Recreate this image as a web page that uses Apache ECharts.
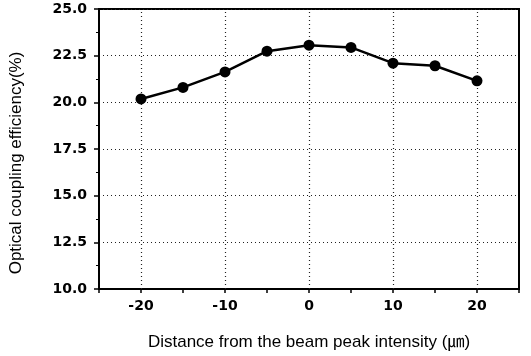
<!DOCTYPE html>
<html>
<head>
    <meta charset="UTF-8">
    <title>Optical coupling efficiency</title>
    <style>
        html, body { margin: 0; padding: 0; background: #fff; }
    </style>
</head>
<body>
<div id="chart" style="width: 531px;height: 356px;"></div>
<script src="https://cdn.jsdelivr.net/npm/echarts@6/dist/echarts.min.js"></script>
<script>
    var distance = [-20, -15, -10, -5, 0, 5, 10, 15, 20];
    var efficiency = [20.18, 20.8, 21.63, 22.74, 23.06, 22.94, 22.1, 21.96, 21.15];
    var xGrid = [-20, -10, 0, 10, 20];

    var chartDom = document.getElementById('chart');
    var myChart = echarts.init(chartDom);

    var font = '"Liberation Sans", Arial, "Noto Sans CJK KR", sans-serif';
    var tickFont = '"DejaVu Sans", sans-serif';
    var dots = [1, 3];
    var option = {
        animation: false,
        grid: {
            left: 97,
            right: 12,
            top: 9,
            bottom: 67,
            show: true,
            borderColor: '#000',
            borderWidth: 2
        },
        xAxis: {
            type: 'value',
            min: -25,
            max: 25,
            interval: 5,
            name: 'Distance from the beam peak intensity (\u339b)',
            nameLocation: 'middle',
            nameGap: 45,
            nameTextStyle: { color: '#000', fontSize: 17, fontFamily: font },
            axisLine: { onZero: false, lineStyle: { color: '#000', width: 2 } },
            axisTick: { length: 4, lineStyle: { color: '#000', width: 1.5 } },
            axisLabel: {
                color: '#000',
                fontSize: 14,
                fontWeight: 'bold',
                fontFamily: tickFont,
                margin: 10,
                formatter: function (v) {
                    return (v % 10 === 0 && Math.abs(v) < 25) ? String(v) : '';
                }
            },
            splitLine: { show: false }
        },
        yAxis: {
            type: 'value',
            min: 10,
            max: 25,
            interval: 2.5,
            name: 'Optical coupling efficiency(%)',
            nameLocation: 'middle',
            nameGap: 74,
            nameTextStyle: { color: '#000', fontSize: 17, fontFamily: font, padding: [0, 28, 0, 0] },
            axisLine: { show: true, onZero: false, lineStyle: { color: '#000', width: 2 } },
            axisTick: { show: true, length: 5, lineStyle: { color: '#000', width: 1.5 } },
            minorTick: { show: true, splitNumber: 2, length: 3, lineStyle: { color: '#000', width: 1 } },
            axisLabel: {
                color: '#000',
                fontSize: 14,
                fontWeight: 'bold',
                fontFamily: tickFont,
                margin: 12,
                formatter: function (v) { return v.toFixed(1); }
            },
            splitLine: { show: true, lineStyle: { color: '#222', type: dots, width: 1.2 } }
        },
        series: [{
            type: 'line',
            data: distance.map(function (x, i) { return [x, efficiency[i]]; }),
            symbol: 'circle',
            symbolSize: 11,
            itemStyle: { color: '#000' },
            lineStyle: { color: '#000', width: 2.5 },
            markLine: {
                silent: true,
                symbol: 'none',
                label: { show: false },
                lineStyle: { color: '#222', type: dots, width: 1.2 },
                data: xGrid.map(function (v) { return { xAxis: v }; })
            },
            z: 5
        }]
    };
    myChart.setOption(option);
    window.onresize = myChart.resize;
</script>
</body>
</html>
